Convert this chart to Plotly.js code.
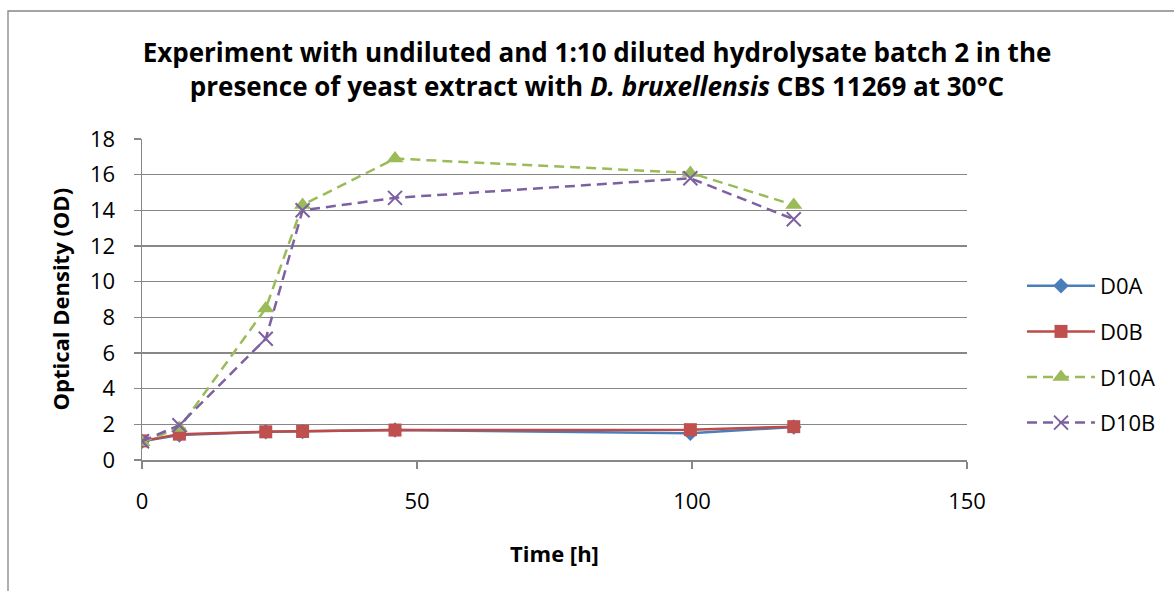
<!DOCTYPE html>
<html>
<head>
<meta charset="utf-8">
<script src="https://cdn.plot.ly/plotly-3.0.1.min.js"></script>
<style>html,body{margin:0;padding:0;background:#fff;}#chart{width:1174px;height:591px;}</style>
</head>
<body>
<div id="chart"></div>
<script>
// Data
const timeHours = [0, 6.8, 22.5, 29.2, 46, 99.7, 118.5];
const seriesNames = ['D0A', 'D0B', 'D10A', 'D10B'];
const D0A  = [1.05, 1.4, 1.58, 1.6, 1.68, 1.5, 1.85];
const D0B  = [1.07, 1.45, 1.58, 1.6, 1.68, 1.7, 1.87];
const D10A = [1.0, 1.8, 8.5, 14.3, 16.9, 16.1, 14.3];
const D10B = [1.05, 1.95, 6.8, 14.0, 14.7, 15.8, 13.5];
const yTicks = [0, 2, 4, 6, 8, 10, 12, 14, 16, 18];
const xTicks = [0, 50, 100, 150];
const yTitle = 'Optical Density (OD)';
const xTitle = 'Time [h]';

const FONT = 'Open Sans, Liberation Sans, sans-serif';

const traces = [
  {name: seriesNames[0], y: D0A, line: {color: '#4a7ebb', width: 2.5},
   marker: {symbol: 'diamond', size: 12, color: '#4a7ebb'}},
  {name: seriesNames[1], y: D0B, line: {color: '#be4b48', width: 2.5},
   marker: {symbol: 'square', size: 13, color: '#c0504d'}},
  {name: seriesNames[2], y: D10A, line: {color: '#9bbb59', width: 2.5, dash: '10px,6px'},
   marker: {symbol: 'triangle-up', size: 15, color: '#9bbb59'}},
  {name: seriesNames[3], y: D10B, line: {color: '#7d60a0', width: 2.5, dash: '10px,6px'},
   marker: {symbol: 'x-thin-open', size: 14, color: '#7d60a0', line: {width: 2, color: '#7d60a0'}}}
].map((t, i) => Object.assign({x: timeHours, type: 'scatter', mode: 'lines+markers', legendgroup: 'g' + i}, t));

const L = 142, R = 967, T = 139, B = 460;
const px = v => (v - L) / (R - L);
const py = v => (B - v) / (B - T);

const layout = {
  width: 1174, height: 591,
  margin: {l: L, r: 1174 - R, t: T, b: 591 - B, pad: 0},
  paper_bgcolor: '#ffffff', plot_bgcolor: '#ffffff',
  font: {family: FONT, color: '#000000', size: 21},
  showlegend: true,
  title: {
    text: 'Experiment with undiluted and 1:10 diluted hydrolysate batch 2 in the<br>presence of yeast extract with <i>D. bruxellensis</i> CBS 11269 at 30°C',
    x: 597 / 1174, xanchor: 'center', xref: 'container',
    y: 1 - 62 / 591, yanchor: 'top', yref: 'container',
    font: {family: FONT, size: 26, weight: 700, color: '#000000'}
  },
  xaxis: {
    range: [0, 150], tickmode: 'array', tickvals: xTicks,
    showgrid: false, zeroline: false,
    showline: true, linecolor: '#878787', linewidth: 1.5,
    ticks: 'outside', ticklen: 7, tickwidth: 1.5, tickcolor: '#878787',
    ticklabelstandoff: 14,
    tickfont: {family: FONT, size: 22, color: '#000000'},
    title: {text: xTitle, font: {family: FONT, size: 22, weight: 700, color: '#000000'}, standoff: 32}
  },
  yaxis: {
    range: [0, 18], tickmode: 'array', tickvals: yTicks,
    showgrid: true, gridcolor: '#878787', gridwidth: 1.5,
    zeroline: false,
    showline: true, linecolor: '#878787', linewidth: 1.5,
    ticks: 'outside', ticklen: 7, tickwidth: 1.5, tickcolor: '#878787',
    ticklabelstandoff: 14,
    tickfont: {family: FONT, size: 22, color: '#000000'}
  },
  annotations: [{
    text: '<b>' + yTitle + '</b>', textangle: -90,
    xref: 'paper', yref: 'paper', x: px(59), y: 0.5,
    xanchor: 'center', yanchor: 'middle', showarrow: false,
    font: {family: FONT, size: 22, color: '#000000'}
  }],
  legend: {
    x: px(1022), xanchor: 'left', y: py(265), yanchor: 'top',
    bgcolor: 'rgba(0,0,0,0)', borderwidth: 0,
    itemwidth: 68, tracegroupgap: 14,
    font: {family: FONT, size: 22, color: '#000000'}
  },
  shapes: [{
    type: 'rect', xref: 'paper', yref: 'paper',
    x0: px(8), x1: px(1185), y0: py(600), y1: py(11),
    line: {color: '#868686', width: 1.3}, fillcolor: 'rgba(0,0,0,0)', layer: 'below'
  }]
};

Plotly.newPlot('chart', traces, layout, {displayModeBar: false, staticPlot: true});
</script>
</body>
</html>
